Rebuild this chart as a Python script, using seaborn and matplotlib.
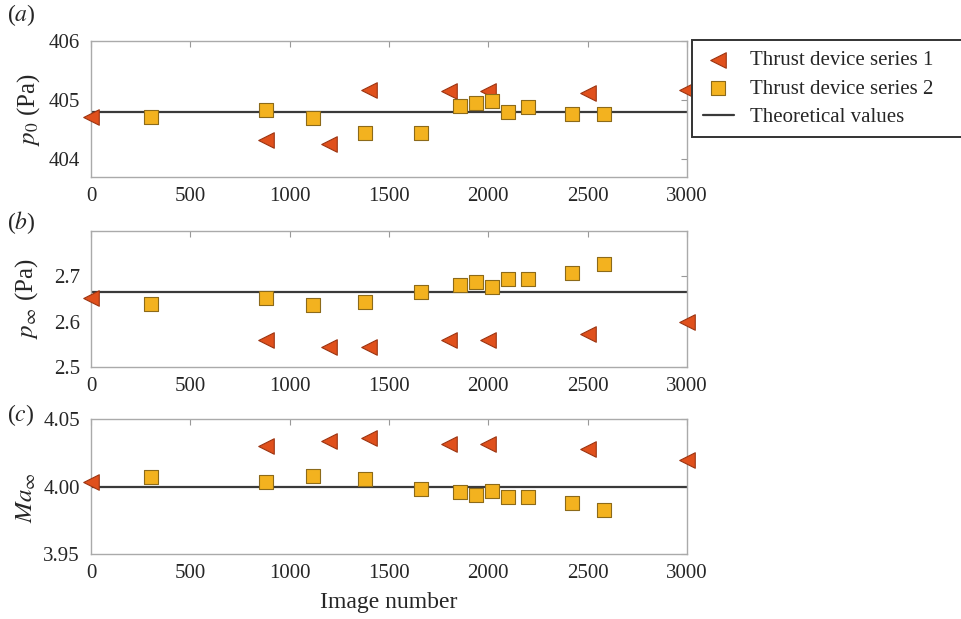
# Thrust device comparison: p0, p_inf and Ma_inf against image number
import pandas as pd
import seaborn as sns
import matplotlib.pyplot as plt
import numpy as np

# image numbers of each series
x_series1 = [0, 880, 1200, 1400, 1800, 2000, 2500, 3000]
x_series2 = [300, 880, 1120, 1380, 1660, 1860, 1940, 2020, 2100, 2200, 2420, 2580]

# (a) p0 (Pa)
p0_series1 = [404.72, 404.33, 404.26, 405.17, 405.16, 405.16, 405.12, 405.18]
p0_series2 = [404.72, 404.84, 404.70, 404.45, 404.44, 404.90, 404.95, 404.98, 404.80, 404.88, 404.76, 404.76]
p0_theory = 404.80

# (b) p_inf (Pa)
pinf_series1 = [2.652, 2.559, 2.544, 2.544, 2.559, 2.559, 2.573, 2.600]
pinf_series2 = [2.639, 2.653, 2.636, 2.643, 2.665, 2.680, 2.688, 2.676, 2.694, 2.694, 2.707, 2.727]
pinf_theory = 2.666

# (c) Ma_inf
ma_series1 = [4.003, 4.030, 4.034, 4.036, 4.0315, 4.0315, 4.028, 4.020]
ma_series2 = [4.007, 4.0035, 4.008, 4.0055, 3.998, 3.996, 3.994, 3.9965, 3.992, 3.992, 3.988, 3.9825]
ma_theory = 4.000

sns.set_style("white")
plt.rcParams['font.family'] = ['Liberation Serif', 'DejaVu Serif']
plt.rcParams['mathtext.fontset'] = 'stix'

fig = plt.figure(figsize=(9.62, 6.19), dpi=100)
ax_a = fig.add_axes([0.0946, 0.714, 0.6195, 0.2197])
ax_b = fig.add_axes([0.0946, 0.407, 0.6195, 0.2197])
ax_c = fig.add_axes([0.0946, 0.105, 0.6195, 0.2181])

red = "#e0501c"
red_edge = "#9c3512"
yellow = "#f3b21f"
yellow_edge = "#8c6a1a"

panels = [
    (ax_a, p0_series1, p0_series2, p0_theory, (403.7, 406), [404, 405, 406], ["404", "405", "406"],
     "$p_0$ (Pa)", -0.082, 0.5, "($a$)", 0.976),
    (ax_b, pinf_series1, pinf_series2, pinf_theory, (2.5, 2.8), [2.5, 2.6, 2.7], ["2.5", "2.6", "2.7"],
     r"$p_\infty$ (Pa)", -0.085, 0.5, "($b$)", 0.641),
    (ax_c, ma_series1, ma_series2, ma_theory, (3.95, 4.05), [3.95, 4.00, 4.05], ["3.95", "4.00", "4.05"],
     r"$Ma_\infty$", -0.089, 0.42, "($c$)", 0.330),
]

for ax, y1, y2, theory, ylim, yticks, yticklabels, ylabel, lx, ly, tag, ty in panels:
    ax.axhline(theory, color="#3a3a3a", lw=1.6, zorder=1, label="Theoretical values")
    sns.scatterplot(x=x_series1, y=y1, marker="<", s=125, color=red, edgecolor=red_edge,
                    linewidth=0.8, ax=ax, zorder=3, clip_on=False, label="Thrust device series 1")
    sns.scatterplot(x=x_series2, y=y2, marker="s", s=95, color=yellow, edgecolor=yellow_edge,
                    linewidth=0.8, ax=ax, zorder=3, clip_on=False, label="Thrust device series 2")
    ax.set_xlim(0, 3000)
    ax.set_ylim(*ylim)
    ax.set_xticks(np.arange(0, 3001, 500))
    ax.set_yticks(yticks)
    ax.set_yticklabels(yticklabels)
    ax.tick_params(direction="in", length=4, color="#999999", labelsize=15,
                   top=True, right=True)
    ax.tick_params(axis="y", pad=8)
    ax.tick_params(axis="x", pad=7)
    for sp in ax.spines.values():
        sp.set_color("#aaaaaa")
        sp.set_linewidth(1.0)
    ax.set_ylabel(ylabel, fontsize=18)
    ax.yaxis.set_label_coords(lx, ly)
    ax.get_legend().remove()
    fig.text(0.007, ty, tag, fontsize=17, ha="left", va="center")

ax_c.set_xlabel("Image number", fontsize=17, labelpad=7)

handles, labels = ax_a.get_legend_handles_labels()
order = [labels.index("Thrust device series 1"), labels.index("Thrust device series 2"),
         labels.index("Theoretical values")]
leg = fig.legend([handles[i] for i in order], [labels[i] for i in order],
                 loc="upper left", bbox_to_anchor=(0.7195, 0.935, 0.5, 0), mode="expand",
                 fontsize=15, frameon=True, fancybox=False, edgecolor="#333333", framealpha=1,
                 handlelength=1.5, handletextpad=0.8, borderpad=0.5, labelspacing=0.42,
                 borderaxespad=0)
leg.get_frame().set_linewidth(1.4)

plt.savefig("out.png", dpi=100)
